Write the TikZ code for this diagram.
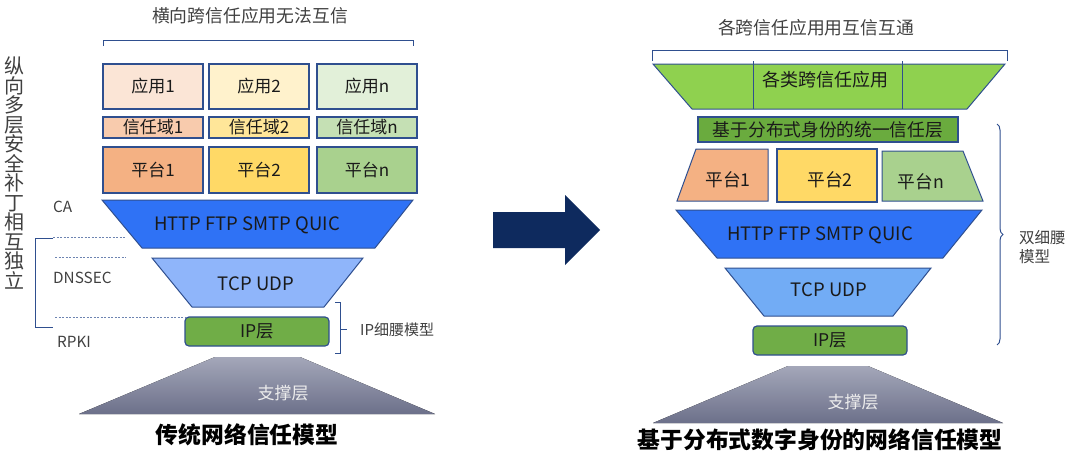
\documentclass[tikz,border=0pt]{standalone}
\usepackage{fontspec}
\setmainfont{Noto Sans CJK SC}
\usetikzlibrary{decorations.pathreplacing}
\definecolor{bd}{HTML}{2F4F8F}
\definecolor{txt}{HTML}{1A1A1A}
\definecolor{gtxt}{HTML}{404040}
\definecolor{appA}{HTML}{FBE5D6}
\definecolor{appB}{HTML}{FFF2CC}
\definecolor{appC}{HTML}{E2F0D9}
\definecolor{trA}{HTML}{F8CBAD}
\definecolor{trB}{HTML}{FFE699}
\definecolor{trC}{HTML}{C5E0B4}
\definecolor{plA}{HTML}{F4B183}
\definecolor{plB}{HTML}{FFD966}
\definecolor{plC}{HTML}{A9D18E}
\definecolor{httpc}{HTML}{2F72F5}
\definecolor{tcpL}{HTML}{8FB5FA}
\definecolor{tcpR}{HTML}{72ACF5}
\definecolor{ipc}{HTML}{70AD47}
\definecolor{trustc}{HTML}{6AAB3E}
\definecolor{appg}{HTML}{8FD14F}
\definecolor{navy}{HTML}{0E2A5E}
\definecolor{supT}{HTML}{A4A7B9}
\definecolor{supB}{HTML}{6C708A}
\tikzset{
  box/.style={draw=bd, line width=1.2pt, inner sep=0pt, text=txt, font=\fontsize{17}{17}\selectfont},
  lay/.style={draw=bd, line width=1pt},
  lbl/.style={text=txt, inner sep=0pt, font=\fontsize{17.7}{17.7}\selectfont},
  side/.style={text=gtxt, inner sep=0pt, font=\fontsize{15.3}{15.3}\selectfont},
  head/.style={text=gtxt, inner sep=0pt, font=\fontsize{17.8}{17.8}\selectfont},
  big/.style={text=black, inner sep=0pt, font=\fontsize{22.8}{22.8}\selectfont\bfseries},
  brk/.style={draw=bd, line width=1pt},
  dots/.style={draw=bd!70, line width=0.8pt, dash pattern=on 2pt off 1.5pt},
  sup/.style={top color=supT, bottom color=supB, draw=none},
  suptxt/.style={text=white!93!black, inner sep=0pt, font=\fontsize{17}{17}\selectfont}
}
\begin{document}
\begin{tikzpicture}[x=1pt,y=-1pt]
\useasboundingbox (0,0) rectangle (1080,474);
% ================= LEFT =================
\node[head] (ltitle) at (250,16) {横向跨信任应用无法互信};
\draw[brk] (103,46) -- (103,40) -- (413,40) -- (413,46);
\node[box, fill=appA, minimum width=100, minimum height=45] (app1) at (153,86.5) {应用1};
\node[box, fill=appB, minimum width=100, minimum height=45] (app2) at (259,86.5) {应用2};
\node[box, fill=appC, minimum width=100, minimum height=45] (appn) at (367,86.5) {应用n};
\node[box, fill=trA, minimum width=100, minimum height=21] (tr1) at (153,127.5) {信任域1};
\node[box, fill=trB, minimum width=100, minimum height=21] (tr2) at (259,127.5) {信任域2};
\node[box, fill=trC, minimum width=100, minimum height=21] (trn) at (367,127.5) {信任域n};
\node[box, fill=plA, minimum width=100, minimum height=46] (pl1) at (153,170) {平台1};
\node[box, fill=plB, minimum width=100, minimum height=46] (pl2) at (259,170) {平台2};
\node[box, fill=plC, minimum width=100, minimum height=46] (pln) at (367,170) {平台n};
% vertical text
\node[text=gtxt, inner sep=0pt, font=\fontsize{20}{20}\selectfont, align=center] (vtext) at (15,173)
  {纵\\[-0.5pt]向\\[-0.5pt]多\\[-0.5pt]层\\[-0.5pt]安\\[-0.5pt]全\\[-0.5pt]补\\[-0.5pt]丁\\[-0.5pt]相\\[-0.5pt]互\\[-0.5pt]独\\[-0.5pt]立};
% HTTP
\fill[httpc] (102,200) -- (413,200) -- (375,248) -- (142,248) -- cycle;
\draw[lay] (102,200) -- (413,200) -- (375,248) -- (142,248) -- cycle;
\node[lbl, font=\fontsize{18.5}{18.5}\selectfont] (lhttp) at (247,225) {HTTP FTP SMTP QUIC};
% TCP
\fill[tcpL] (152,258) -- (363,258) -- (324,307) -- (192,307) -- cycle;
\draw[lay] (152,258) -- (363,258) -- (324,307) -- (192,307) -- cycle;
\node[lbl, font=\fontsize{18.5}{18.5}\selectfont] (ltcp) at (256,284) {TCP UDP};
% IP
\node[box, fill=ipc, rounded corners=4pt, minimum width=144, minimum height=29, font=\fontsize{17.5}{17.5}\selectfont] (lip) at (257,331.5) {IP层};
% support
\fill[sup] (215,357) -- (300,357) -- (435,414) -- (79,414) -- cycle;
\node[suptxt] (lsup) at (283,393) {支撑层};
\node[big] (lbig) at (247,435) {传统网络信任模型};
% left labels
\node[side, anchor=west] (ca) at (53,207) {CA};
\node[side, anchor=west] (dns) at (53,278) {DNSSEC};
\node[side, anchor=west] (rpki) at (57,342) {RPKI};
\coordinate (d1a) at (53,237); \coordinate (d1b) at (125,237);
\coordinate (d2a) at (55,257); \coordinate (d2b) at (126,257);
\coordinate (d3a) at (55,317); \coordinate (d3b) at (187,317);
\draw[dots] (d1a) -- (d1b);
\draw[dots] (d2a) -- (d2b);
\draw[dots] (d3a) -- (d3b);
\draw[brk] (53,238) -- (35,238) -- (35,327) -- (53,327);
% IP bracket
\draw[brk] (335,302) -- (340,302) -- (340,353) -- (335,353);
\draw[brk] (340,329) -- (347,329);
\node[side, anchor=west, font=\fontsize{15}{15}\selectfont] (ipw) at (360,330) {IP细腰模型};
% ================= ARROW =================
\fill[navy] (493,212) -- (565,212) -- (565,195) -- (600,230) -- (565,265) -- (565,248) -- (493,248) -- cycle;
\node[inner sep=0pt] (arr) at (546,230) {};
% ================= RIGHT =================
\node[head] (rtitle) at (816,28) {各跨信任应用用互信互通};
\draw[brk] (652,61) -- (652,50) -- (1007,50) -- (1007,61);
\fill[appg] (653,64) -- (1005,64) -- (967,109) -- (692,109) -- cycle;
\draw[lay] (653,64) -- (1005,64) -- (967,109) -- (692,109) -- cycle;
\draw[lay] (753,61) -- (753,109);
\draw[lay] (902,61) -- (902,109);
\node[lbl, font=\fontsize{18}{18}\selectfont] (rapp) at (825,80) {各类跨信任应用};
\node[box, fill=trustc, minimum width=260, minimum height=25, font=\fontsize{17.7}{17.7}\selectfont] (rtrust) at (828,129.5) {基于分布式身份的统一信任层};
% platforms
\fill[plA] (696,149) -- (768,149) -- (768,201) -- (677,201) -- cycle;
\draw[lay] (696,149) -- (768,149) -- (768,201) -- (677,201) -- cycle;
\node[lbl] (rpl1) at (728,180) {平台1};
\node[box, fill=plB, minimum width=100, minimum height=53] (rpl2) at (827,175.5) {};
\node[lbl] (rpl2t) at (830,180) {平台2};
\fill[plC] (882,151) -- (963,151) -- (983,201) -- (882,201) -- cycle;
\draw[lay] (882,151) -- (963,151) -- (983,201) -- (882,201) -- cycle;
\node[lbl] (rpln) at (921,182) {平台n};
% HTTP
\fill[httpc] (676,210) -- (982,210) -- (943,258) -- (717,258) -- cycle;
\draw[lay] (676,210) -- (982,210) -- (943,258) -- (717,258) -- cycle;
\node[lbl, font=\fontsize{18.5}{18.5}\selectfont] (rhttp) at (820,235) {HTTP FTP SMTP QUIC};
% TCP
\fill[tcpR] (725,268) -- (931,268) -- (893,316) -- (764,316) -- cycle;
\draw[lay] (725,268) -- (931,268) -- (893,316) -- (764,316) -- cycle;
\node[lbl, font=\fontsize{18.5}{18.5}\selectfont] (rtcp) at (829,290) {TCP UDP};
% IP
\node[box, fill=ipc, rounded corners=4pt, minimum width=154, minimum height=29, font=\fontsize{17.5}{17.5}\selectfont] (rip) at (830,340.5) {IP层};
% support
\fill[sup] (788,366) -- (868,366) -- (1003,423) -- (653,423) -- cycle;
\node[suptxt] (rsup) at (853,402) {支撑层};
\node[big] (rbig) at (820,440) {基于分布式数字身份的网络信任模型};
% brace
\coordinate (bt) at (997,124); \coordinate (bb) at (997,345);
\draw[brk, decorate, decoration={brace, amplitude=6pt}] (bt) -- (bb);
\node[side, anchor=west, align=left, font=\fontsize{15.5}{19}\selectfont] (dw) at (1019,247) {双细腰\\模型};
\end{tikzpicture}
\end{document}
